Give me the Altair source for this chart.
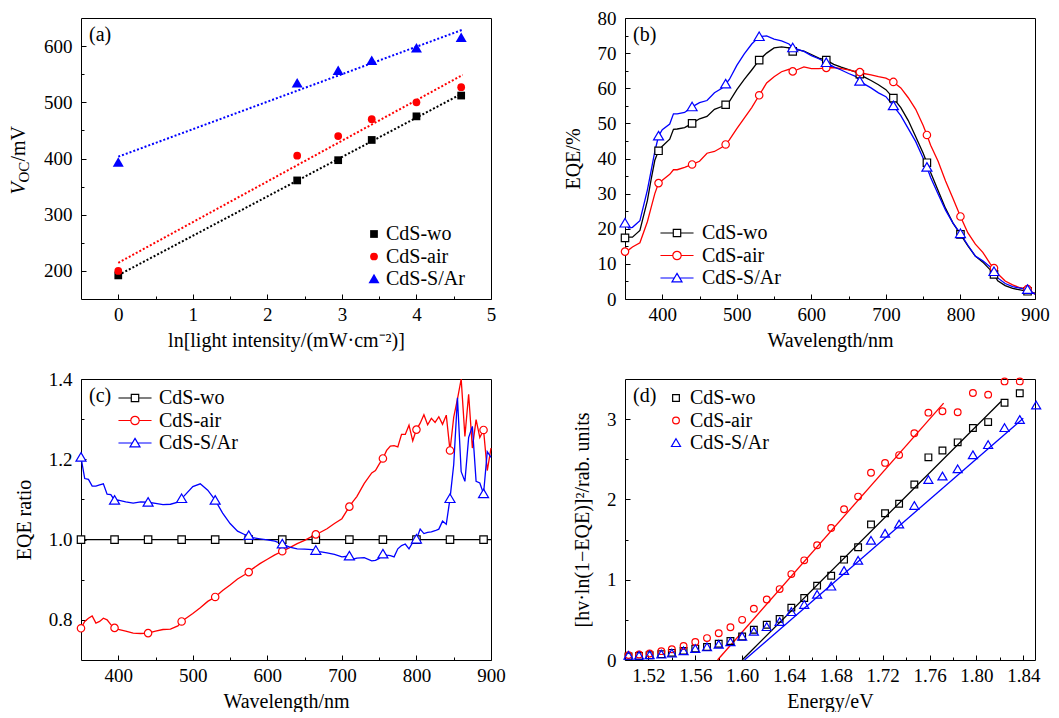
import altair as alt
import pandas as pd

FONT = "Liberation Serif"
W, H = 410, 281

series = ["CdS-wo", "CdS-air", "CdS-S/Ar"]
colors = ["#000000", "#ff0000", "#0000ff"]
# square, circle, triangle (custom paths in the -1..1 box to match the marker sizes)
SQ = "M-1,-1H1V1H-1Z"
TRI_A = "M0,-1.35L1.42,1.1L-1.42,1.1Z"
TRI_B = "M0,-1.25L1.35,1.05L-1.35,1.05Z"
# legend glyphs "line + marker" for panels (b) and (c)
SQ_LINE = "M-4.46,0H-1M1,0H4.46M-1,-1H1V1H-1Z"
CI_LINE = "M-4.46,0H-1.13M1.13,0H4.46M-1.13,0A1.13,1.13 0 1,0 1.13,0A1.13,1.13 0 1,0 -1.13,0Z"
TRI_LINE = "M-4.46,0H-0.73M0.73,0H4.46M0,-1.25L1.35,1.05L-1.35,1.05Z"

# ---------------- (a) Voc vs ln(light intensity)
ln_i = [0.0, 2.40, 2.95, 3.40, 4.00, 4.60]
voc_wo = [192, 361, 397, 433, 475, 512]
voc_air = [200, 405, 440, 470, 500, 527]
voc_sar = [393, 534, 556, 574, 596, 615]

# ---------------- (b) EQE spectra
wl_b = [350, 355, 360, 370, 380, 385, 390, 395, 400, 410, 415, 420, 430, 440, 450,
        460, 470, 480, 485, 490, 500, 510, 520, 530, 540, 550, 560, 570, 575, 580,
        590, 600, 610, 620, 630, 640, 650, 660, 665, 670, 680, 690, 700, 710, 720,
        730, 740, 750, 755, 760, 770, 780, 790, 800, 810, 820, 830, 840, 845, 850,
        860, 870, 880, 890, 900]
eqe_wo = [17.4, 17.6, 17.6, 19.5, 28.0, 34.0, 39.5, 42.2, 43.5, 45.5, 48.3, 48.4, 48.8, 50.0, 51.3,
          52.0, 54.0, 54.8, 55.3, 56.2, 59.6, 62.5, 65.2, 68.0, 70.0, 71.5, 71.8, 71.5, 70.5, 71.0,
          70.6, 69.6, 68.6, 68.0, 66.8, 66.0, 65.3, 64.6, 64.0, 63.3, 62.2, 61.0, 59.6, 57.2, 54.5,
          50.8, 46.2, 41.5, 38.8, 36.0, 30.9, 25.8, 21.6, 18.4, 15.1, 12.2, 10.5, 8.3, 7.0, 5.2,
          3.8, 3.0, 2.6, 2.2, 1.7]
eqe_air = [13.5, 14.0, 14.8, 16.0, 22.0, 26.0, 30.0, 33.0, 33.8, 35.5, 36.8, 36.8, 37.5, 38.3, 39.2,
           41.5, 42.0, 43.2, 44.0, 45.3, 48.5, 51.5, 54.5, 58.0, 61.5, 63.3, 64.7, 65.4, 64.8, 65.2,
           66.1, 65.6, 65.6, 65.8, 65.9, 65.6, 65.2, 64.7, 64.6, 64.2, 63.8, 63.3, 62.9, 61.8, 60.1,
           57.3, 54.0, 49.4, 46.7, 43.8, 39.2, 33.6, 28.6, 23.5, 18.8, 15.6, 13.3, 10.0, 8.8, 7.2,
           5.1, 4.0, 3.2, 2.8, 1.4]
eqe_sar = [21.6, 20.2, 20.4, 22.3, 31.0, 36.5, 42.0, 46.4, 48.2, 49.8, 52.7, 52.7, 53.1, 54.7, 55.9,
           56.5, 58.7, 60.0, 61.2, 62.5, 66.5, 69.8, 72.6, 74.7, 74.9, 74.0, 73.5, 72.6, 71.5, 71.2,
           70.5, 69.3, 68.4, 67.3, 66.1, 65.2, 64.2, 63.3, 62.0, 61.3, 60.1, 58.7, 57.6, 55.0, 52.2,
           48.5, 44.8, 40.1, 37.5, 34.6, 29.9, 25.3, 21.6, 18.6, 15.3, 12.2, 10.9, 9.1, 7.8, 6.0,
           4.4, 3.5, 3.1, 2.7, 1.4]
markers_wl = [350, 395, 440, 485, 530, 575, 620, 665, 710, 755, 800, 845, 890]

# ---------------- (c) EQE ratio
wl_c = [350, 355, 360, 365, 370, 375, 380, 385, 390, 395, 400, 410, 420, 430, 440, 450, 460, 470,
        480, 485, 490, 500, 510, 520, 530, 540, 550, 560, 570, 575, 580, 590, 600, 610, 620, 630,
        640, 650, 660, 665, 670, 680, 690, 700, 710, 715, 720, 730, 740, 745, 750, 755, 760, 765,
        770, 775, 780, 785, 790, 795, 800, 805, 810, 815, 820, 825, 830, 835, 840, 845, 850, 855,
        860, 865, 870, 875, 880, 885, 890, 895, 900]
ratio_air = [0.779, 0.796, 0.804, 0.810, 0.792, 0.796, 0.804, 0.800, 0.788, 0.780,
             0.776, 0.772, 0.767, 0.766, 0.767, 0.772, 0.776, 0.777, 0.785, 0.796,
             0.803, 0.816, 0.830, 0.846, 0.857, 0.873, 0.887, 0.902, 0.913, 0.919,
             0.927, 0.940, 0.951, 0.962, 0.971, 0.980, 0.990, 0.998, 1.008, 1.013,
             1.017, 1.027, 1.040, 1.052, 1.082, 1.095, 1.107, 1.140, 1.166, 1.172,
             1.188, 1.202, 1.222, 1.233, 1.234, 1.231, 1.262, 1.262, 1.285, 1.246,
             1.274, 1.290, 1.311, 1.286, 1.302, 1.292, 1.306, 1.287, 1.310, 1.222,
             1.305, 1.350, 1.400, 1.257, 1.362, 1.228, 1.299, 1.254, 1.273, 1.172,
             1.228]
ratio_sar = [1.205, 1.152, 1.150, 1.133, 1.133, 1.136, 1.139, 1.113, 1.112, 1.098,
             1.098, 1.094, 1.091, 1.094, 1.093, 1.090, 1.087, 1.088, 1.093, 1.102,
             1.112, 1.132, 1.139, 1.123, 1.098, 1.066, 1.040, 1.021, 1.012, 1.010,
             1.005, 1.002, 0.999, 0.996, 0.989, 0.981, 0.977, 0.976, 0.975, 0.973,
             0.970, 0.967, 0.963, 0.957, 0.959, 0.951, 0.954, 0.955, 0.947, 0.948,
             0.953, 0.964, 0.961, 0.960, 0.957, 0.977, 0.985, 0.989, 0.977, 0.993,
             1.001, 1.026, 1.015, 1.018, 1.019, 1.022, 1.026, 1.046, 1.038, 1.102,
             1.187, 1.353, 1.169, 1.145, 1.254, 1.282, 1.145, 1.141, 1.114, 1.219,
             1.205]
wl_c_wo = [350, 395, 440, 485, 530, 575, 620, 665, 710, 755, 800, 845, 890, 900]
ratio_wo = [1.0, 1.0, 1.0, 1.0, 1.0, 1.0, 1.0, 1.0, 1.0, 1.0, 1.0, 1.0, 1.0, 1.0]

# ---------------- (d) Tauc-type plot
energy = [1.503, 1.512, 1.521, 1.531, 1.540, 1.550, 1.560, 1.570, 1.580, 1.590,
          1.600, 1.610, 1.621, 1.632, 1.642, 1.653, 1.664, 1.676, 1.687, 1.699,
          1.710, 1.722, 1.734, 1.747, 1.759, 1.771, 1.784, 1.797, 1.810, 1.824,
          1.837, 1.851]
tauc_wo = [0.045, 0.050, 0.060, 0.073, 0.089, 0.114, 0.142, 0.162, 0.203, 0.236,
           0.293, 0.376, 0.440, 0.512, 0.652, 0.772, 0.926, 1.050, 1.250, 1.404,
           1.689, 1.828, 1.946, 2.186, 2.524, 2.609, 2.711, 2.890, 2.963, 3.204,
           3.322]
tauc_air = [0.061, 0.069, 0.081, 0.110, 0.134, 0.175, 0.224, 0.273, 0.334, 0.407,
            0.500, 0.639, 0.753, 0.883, 1.070, 1.241, 1.429, 1.644, 1.877, 2.035,
            2.332, 2.455, 2.552, 2.825, 3.081, 3.098, 3.085, 3.326, 3.305, 3.470,
            3.470]
tauc_sar = [0.053, 0.053, 0.061, 0.069, 0.081, 0.110, 0.138, 0.159, 0.191, 0.224,
            0.290, 0.354, 0.411, 0.476, 0.598, 0.688, 0.814, 0.916, 1.111, 1.237,
            1.486, 1.575, 1.689, 1.921, 2.243, 2.288, 2.377, 2.552, 2.678, 2.890,
            2.992, 3.171]
# fitted straight lines (end points)
fit_e_start = [1.600, 1.579, 1.602]
fit_e_end = [1.821, 1.772, 1.840]
fit_v_start = [0.0, 0.0, 0.0]
fit_v_end = [3.22, 3.20, 3.01]


# ---------------- helpers
def major_x(values, fmt, title):
    return alt.Axis(values=values, format=fmt, title=title, orient="bottom", domain=False, grid=False,
                    ticks=True, tickSize=5, offset=-5, labelPadding=6, titlePadding=6,
                    labelFlush=False, labelOverlap=False)


def minor_x(values):
    return alt.Axis(values=values, orient="bottom", domain=False, grid=False, labels=False,
                    title=None, tickSize=3, offset=-3)


def major_y(values, fmt, title):
    return alt.Axis(values=values, format=fmt, title=title, orient="left", domain=False, grid=False,
                    ticks=True, tickSize=5, offset=-5, labelPadding=9, titlePadding=14,
                    labelFlush=False, labelOverlap=False)


def minor_y(values):
    return alt.Axis(values=values, orient="left", domain=False, grid=False, labels=False,
                    title=None, tickSize=3, offset=-3)


def legend(x, y, **kw):
    return alt.Legend(orient="none", legendX=x, legendY=y, title=None, rowPadding=2.5,
                      labelFont=FONT, labelFontSize=20, labelColor="black", **kw)


def text(s, x, y, size=20, style="normal", angle=0, align="left", baseline="alphabetic"):
    return alt.Chart(pd.DataFrame({"t": [s]})).mark_text(
        align=align, baseline=baseline, fontSize=size, font=FONT, fontStyle=style,
        angle=angle, color="black").encode(x=alt.value(x), y=alt.value(y), text="t:N")


def long(xs, ys_list, xname, yname):
    rows = []
    for name, xv, yv in zip(series, xs, ys_list):
        for a, b in zip(xv, yv):
            rows.append({xname: a, yname: b, "series": name})
    return pd.DataFrame(rows)


def fixed_lines(df, xf, yf, xs, ys, xaxis, yaxis, **mk):
    """one line layer per series with a fixed colour (no extra legend)"""
    out = []
    for i, (name, col) in enumerate(zip(series, colors)):
        out.append(alt.Chart(df).transform_filter(alt.datum.series == name).mark_line(
            color=col, **mk).encode(
            x=alt.X(f"{xf}:Q", scale=xs, axis=xaxis if i == 0 else None),
            y=alt.Y(f"{yf}:Q", scale=ys, axis=yaxis if i == 0 else None)))
    return out


# ---------------- panel (a)
df_a = long([ln_i] * 3, [voc_wo, voc_air, voc_sar], "x", "y")
xa = alt.Scale(domain=[-0.5, 5], nice=False, zero=False)
ya = alt.Scale(domain=[150, 650], nice=False, zero=False)
leg_a = legend(283, H - 75, symbolSize=60, labelOffset=2)
pts_a = alt.Chart(df_a).mark_point(filled=True, opacity=1, size=60).encode(
    x=alt.X("x:Q", scale=xa, axis=major_x([0, 1, 2, 3, 4, 5], "d", "ln[light intensity/(mW·cm⁻²)]")),
    y=alt.Y("y:Q", scale=ya, axis=major_y([200, 300, 400, 500, 600], "d", None)),
    color=alt.Color("series:N", scale=alt.Scale(domain=series, range=colors), legend=leg_a),
    shape=alt.Shape("series:N", scale=alt.Scale(domain=series, range=[SQ, "circle", TRI_A]), legend=leg_a),
)
fit_a = []
for i, (name, col) in enumerate(zip(series, colors)):
    fit_a.append(alt.Chart(df_a).transform_filter(alt.datum.series == name).transform_regression(
        "x", "y", extent=[0, 4.62]).mark_line(color=col, strokeDash=[2, 2], strokeWidth=2).encode(
        x=alt.X("x:Q", scale=xa, axis=minor_x([0.5, 1.5, 2.5, 3.5, 4.5]) if i == 0 else None),
        y=alt.Y("y:Q", scale=ya, axis=minor_y([250, 350, 450, 550]) if i == 0 else None)))
panel_a = alt.layer(
    *fit_a, pts_a,
    text("(a)", 8, 23),
    text("V", -56, H / 2 + 36, style="italic", angle=270),
    text("OC", -52, H / 2 + 24, size=15, angle=270),
    text("/mV", -56, H / 2 + 3, angle=270),
).resolve_axis(x="independent", y="independent").properties(width=W, height=H)


# ---------------- panels (b) and (c): curves with markers
def curve_panel(df, yfield, ys, yvals, yfmt, yminor, ytitle, tag, lx, ly, loff):
    xs = alt.Scale(domain=[350, 900], nice=False, zero=False)
    layers = fixed_lines(df, "wl", yfield, xs, ys,
                         major_x([400, 500, 600, 700, 800, 900], "d", "Wavelength/nm"),
                         major_y(yvals, yfmt, ytitle), strokeWidth=1.3)
    mk = alt.Chart(df).transform_filter(alt.FieldOneOfPredicate(field="wl", oneOf=markers_wl))
    for i, (name, col, shp) in enumerate(zip(series, colors, [SQ, "circle", TRI_B])):
        layers.append(mk.transform_filter(alt.datum.series == name).mark_point(
            shape=shp, filled=True, fill="white", stroke=col, strokeWidth=1.2, size=55, opacity=1
        ).encode(
            x=alt.X("wl:Q", scale=xs, axis=minor_x([450, 550, 650, 750, 850]) if i == 0 else None),
            y=alt.Y(f"{yfield}:Q", scale=ys, axis=minor_y(yminor) if i == 0 else None)))
    leg = legend(lx, ly, symbolSize=55, symbolStrokeWidth=1.2, symbolOpacity=1,
                 symbolFillColor="white", labelOffset=loff)
    # invisible layer that only carries the line+marker legend
    layers.append(mk.mark_point(filled=False, opacity=0, size=55).encode(
        x=alt.X("wl:Q", scale=xs, axis=None),
        y=alt.Y(f"{yfield}:Q", scale=ys, axis=None),
        color=alt.Color("series:N", scale=alt.Scale(domain=series, range=colors), legend=leg),
        shape=alt.Shape("series:N", scale=alt.Scale(domain=series, range=[SQ_LINE, CI_LINE, TRI_LINE]),
                        legend=leg)))
    layers.append(text(tag, 8, 23))
    return alt.layer(*layers).resolve_axis(
        x="independent", y="independent").properties(width=W, height=H)


df_b = long([wl_b] * 3, [eqe_wo, eqe_air, eqe_sar], "wl", "eqe")
panel_b = curve_panel(df_b, "eqe", alt.Scale(domain=[0, 80], nice=False),
                      [0, 10, 20, 30, 40, 50, 60, 70, 80], "d",
                      [5, 15, 25, 35, 45, 55, 65, 75], "EQE/%", "(b)", 42, H - 76, 15)

df_c = long([wl_c_wo, wl_c, wl_c], [ratio_wo, ratio_air, ratio_sar], "wl", "ratio")
panel_c = curve_panel(df_c, "ratio", alt.Scale(domain=[0.7, 1.4], nice=False, zero=False),
                      [0.8, 1.0, 1.2, 1.4], ".1f", [0.9, 1.1, 1.3], "EQE ratio", "(c)", 44, 9, 14)

# ---------------- panel (d)
df_d = long([energy[:len(tauc_wo)], energy[:len(tauc_air)], energy[:len(tauc_sar)]],
            [tauc_wo, tauc_air, tauc_sar], "e", "v")
df_fit = long([[a, b] for a, b in zip(fit_e_start, fit_e_end)],
              [[a, b] for a, b in zip(fit_v_start, fit_v_end)], "e", "v")
xd = alt.Scale(domain=[1.50, 1.85], nice=False, zero=False)
yd = alt.Scale(domain=[0, 3.5], nice=False)
leg_d = legend(41, 9, symbolSize=45, symbolStrokeWidth=1.2, labelOffset=4)
pts_d = alt.Chart(df_d).mark_point(filled=False, strokeWidth=1.2, size=45, opacity=1).encode(
    x=alt.X("e:Q", scale=xd, axis=major_x([1.52, 1.56, 1.60, 1.64, 1.68, 1.72, 1.76, 1.80, 1.84],
                                          ".2f", "Energy/eV")),
    y=alt.Y("v:Q", scale=yd, axis=major_y([0, 1, 2, 3], "d", "[hv·ln(1−EQE)]²/rab. units")),
    color=alt.Color("series:N", scale=alt.Scale(domain=series, range=colors), legend=leg_d),
    shape=alt.Shape("series:N", scale=alt.Scale(domain=series, range=[SQ, "circle", TRI_B]), legend=leg_d),
)
fit_d = fixed_lines(df_fit, "e", "v", xd, yd,
                    minor_x([1.54, 1.58, 1.62, 1.66, 1.70, 1.74, 1.78, 1.82]),
                    minor_y([0.5, 1.5, 2.5]), strokeWidth=1.3)
panel_d = alt.layer(*fit_d, pts_d, text("(d)", 8, 23)).resolve_axis(
    x="independent", y="independent").properties(width=W, height=H)

chart = alt.concat(panel_a, panel_b, panel_c, panel_d, columns=2,
                   spacing={"row": 18, "column": 56}).resolve_scale(
    color="independent", shape="independent"
).properties(
    padding={"top": 0, "left": 0, "right": 0, "bottom": 0}
).configure_view(stroke="black", strokeWidth=1).configure_axis(
    labelFont=FONT, labelFontSize=19, labelColor="black", titleFont=FONT, titleFontSize=20,
    titleFontWeight="normal", titleColor="black", tickColor="black", tickWidth=1
).configure_legend(labelFont=FONT, labelFontSize=20, labelColor="black")

chart.save("out.html", embed_options={"renderer": "svg", "actions": False})
